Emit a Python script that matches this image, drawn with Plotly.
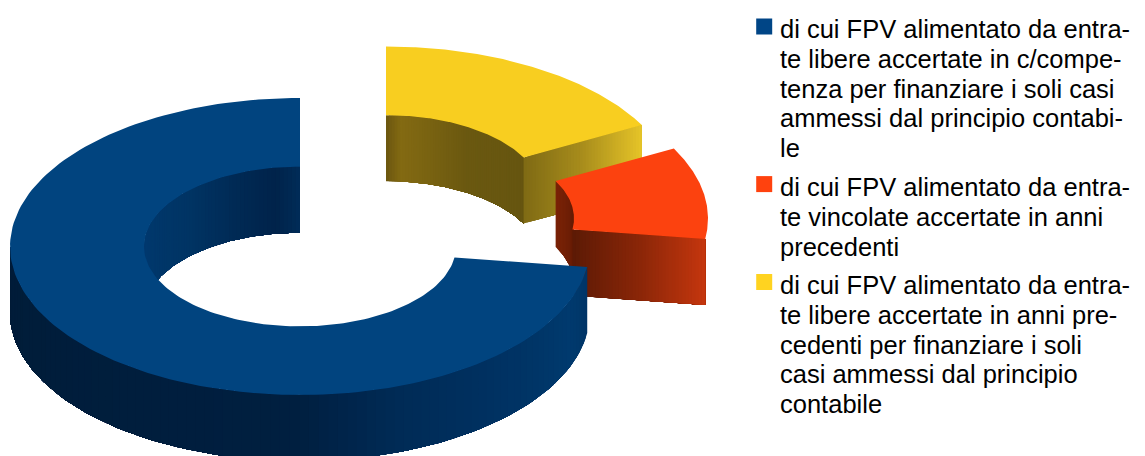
import numpy as np
import plotly.graph_objects as go

# Share of each category (percent), laid out counter-clockwise from twelve o'clock
categories = [
    "di cui FPV alimentato da entrate libere accertate in c/competenza per finanziare i soli casi ammessi dal principio contabile",
    "di cui FPV alimentato da entrate vincolate accertate in anni precedenti",
    "di cui FPV alimentato da entrate libere accertate in anni precedenti per finanziare i soli casi ammessi dal principio contabile",
]
values = [72.8, 10.0, 17.2]
legend_lines = [
    ["di cui FPV alimentato da entra-", "te libere accertate in c/compe-", "tenza per finanziare i soli casi",
     "ammessi dal principio contabi-", "le"],
    ["di cui FPV alimentato da entra-", "te vincolate accertate in anni", "precedenti"],
    ["di cui FPV alimentato da entra-", "te libere accertate in anni pre-", "cedenti per finanziare i soli",
     "casi ammessi dal principio", "contabile"],
]
legend_colors = ["#004586", "#ff420e", "#ffd320"]
top_colors = ["#01447f", "#fc420f", "#f8ce20"]

# Projection of the ring: radii on screen, tilt squash and wall height
R_OUT, R_IN, SQUASH, DEPTH = 290.0, 156.0, 0.512, 66.0
# Ring centre for each slice once exploded
centres = [(300.0, 246.5), (418.0, 218.5), (386.0, 195.0)]
legend_first_baseline = [37.0, 195.0, 292.9]
swatch_y = [26.5, 184.1, 282.0]
LINE_PITCH = 29.8

fig = go.Figure()


def project(centre, radius, angle_deg, drop=0.0):
    a = np.radians(angle_deg)
    return centre[0] + radius * np.sin(a), centre[1] - radius * SQUASH * np.cos(a) + drop


def polygon(xs, ys, color):
    fig.add_trace(go.Scatter(
        x=list(xs), y=list(ys), mode="lines", fill="toself", fillcolor=color,
        line=dict(width=0), hoverinfo="skip", showlegend=False,
    ))


def ramp(stops, t):
    pos = [s[0] for s in stops]
    rgb = [[int(s[1][i:i + 2], 16) for s in stops] for i in (1, 3, 5)]
    return "rgb(%d,%d,%d)" % tuple(round(float(np.interp(t, pos, c))) for c in rgb)


# Each gradient band runs on to the far end of its wall and the next band paints over it,
# so no seams show between neighbouring bands
def curved_wall(centre, radius, a0, a1, stops, steps=60):
    angles = np.linspace(a0, a1, steps + 1)
    for i in range(steps):
        xs, ys = project(centre, radius, angles[i:])
        polygon(np.r_[xs, xs[::-1], xs[0]], np.r_[ys, ys[::-1] + DEPTH, ys[0]],
                ramp(stops, (i + 0.5) / steps))


def radial_wall(centre, angle, stops, steps=40):
    radii = np.linspace(R_IN, R_OUT, steps + 1)
    x_end, y_end = project(centre, R_OUT, angle)
    for i in range(steps):
        x0, y0 = project(centre, radii[i], angle)
        polygon([x0, x_end, x_end, x0, x0], [y0, y_end, y_end + DEPTH, y0 + DEPTH, y0],
                ramp(stops, (i + 0.5) / steps))


def top_face(centre, a0, a1, color):
    angles = np.linspace(a0, a1, 160)
    ox, oy = project(centre, R_OUT, angles)
    ix, iy = project(centre, R_IN, angles[::-1])
    polygon(np.r_[ox, ix, ox[0]], np.r_[oy, iy, oy[0]], color)


# Clockwise angles measured from twelve o'clock; the first category wraps round the left side
span = [v / sum(values) * 360.0 for v in values]
yellow_a = (0.0, span[2])
red_a = (span[2], span[2] + span[1])
blue_a = (span[2] + span[1], 360.0)

# Slices are painted back to front
curved_wall(centres[2], R_IN, yellow_a[0], yellow_a[1],
            [(0, "#6b5610"), (0.09, "#836a12"), (0.5, "#6a5810"), (1, "#665510")])
radial_wall(centres[2], yellow_a[1], [(0, "#7f6a14"), (0.5, "#a88d1c"), (1, "#e6c428")])
top_face(centres[2], yellow_a[0], yellow_a[1], top_colors[2])

curved_wall(centres[1], R_IN, red_a[0], 90.0, [(0, "#7a2206"), (1, "#5f1a05")], steps=20)
radial_wall(centres[1], red_a[1], [(0, "#5c1a05"), (0.5, "#8a2608"), (1, "#c4360e")])
top_face(centres[1], red_a[0], red_a[1], top_colors[1])

curved_wall(centres[0], R_IN, 270.0, 360.0,
            [(0, "#003a70"), (0.5, "#003464"), (0.9, "#00234a"), (1, "#002c58")], steps=60)
curved_wall(centres[0], R_OUT, blue_a[0], 270.0,
            [(0, "#003466"), (0.08, "#003a6e"), (0.2, "#003364"), (0.36, "#002b56"),
             (0.48, "#001f40"), (1, "#001c38")], steps=90)
top_face(centres[0], blue_a[0], blue_a[1], top_colors[0])

# Legend: square swatch plus hand-wrapped lines of text
annotations = []
for name, lines, color, base, sy in zip(categories, legend_lines, legend_colors, legend_first_baseline, swatch_y):
    fig.add_trace(go.Scatter(
        x=[764.2], y=[sy], mode="markers", name=name, hoverinfo="name", showlegend=False,
        marker=dict(symbol="square", size=16, color=color, line=dict(width=0)),
    ))
    for k, line in enumerate(lines):
        annotations.append(dict(
            x=779, y=base + k * LINE_PITCH - 8.0, text=line, showarrow=False,
            xanchor="left", yanchor="middle", align="left", borderpad=0,
            font=dict(family="Liberation Sans", size=25.5, color="#000000"),
        ))

fig.update_layout(
    width=1145, height=456, margin=dict(l=0, r=0, t=0, b=0),
    paper_bgcolor="white", plot_bgcolor="white", annotations=annotations,
    xaxis=dict(range=[0, 1145], visible=False, fixedrange=True),
    yaxis=dict(range=[456, 0], visible=False, fixedrange=True),
)
fig.write_html("out.html", config={"displayModeBar": False})
